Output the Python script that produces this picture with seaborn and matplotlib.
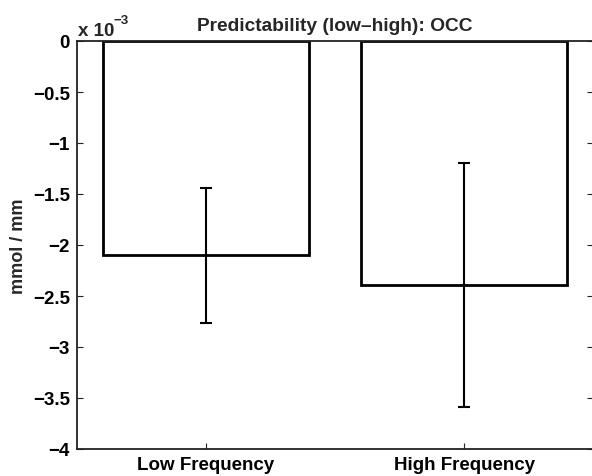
import numpy as np
import matplotlib
matplotlib.use('Agg')
import matplotlib.pyplot as plt
from matplotlib.ticker import FuncFormatter
import seaborn as sns

# dados (mmol / mm)
categorias = ['Low Frequency', 'High Frequency']
medias = [-2.10e-3, -2.39e-3]
erros = [0.66e-3, 1.195e-3]
yticks = [0, -0.5e-3, -1e-3, -1.5e-3, -2e-3, -2.5e-3, -3e-3, -3.5e-3, -4e-3]

sns.set_style('ticks')
plt.rcParams['font.family'] = ['Liberation Sans', 'DejaVu Sans']
plt.rcParams['font.weight'] = 'bold'

W, H = 592, 477
fig = plt.figure(figsize=(W / 100, H / 100), dpi=100)
# o eixo direito fica cortado na borda, como no original
ax = fig.add_axes([77 / W, 1 - 450 / H, (593 - 77) / W, (450 - 42) / H])

sns.barplot(x=categorias, y=medias, color='white', edgecolor='black',
            linewidth=2, width=0.8, saturation=1, errorbar=None, ax=ax)
ax.errorbar(x=np.arange(len(categorias)), y=medias, yerr=erros, fmt='none',
            ecolor='black', elinewidth=1.5, capsize=4, capthick=1.5)

ax.set_xlim(-0.5, 1.5)
ax.set_ylim(-4e-3, 0)
ax.set_yticks(yticks)
ax.yaxis.set_major_formatter(
    FuncFormatter(lambda v, p: f"{round(v * 1e3, 2):g}".replace('-', '\u2212')))

for s in ax.spines.values():
    s.set_visible(True)
    s.set_linewidth(1.3)
    s.set_color('#222222')

ax.tick_params(axis='both', direction='in', length=4, width=0.8,
               labelsize=13.5, pad=5, top=True, right=True, colors='#222222',
               labelcolor='black')
for lab in ax.get_xticklabels() + ax.get_yticklabels():
    lab.set_fontweight('bold')

ax.set_xlabel('')
ax.set_ylabel('mmol / mm', fontsize=13, fontweight='bold', labelpad=4)
ax.set_title('Predictability (low\u2013high): OCC', fontsize=13.8,
             fontweight='bold', pad=8)

# fator de escala estilo MATLAB
fig.text(78 / W, 1 - 36 / H, 'x 10', fontsize=13.5, fontweight='bold',
         va='baseline', ha='left')
fig.text(114 / W, 1 - 24 / H, '\u22123', fontsize=9.5, fontweight='bold',
         va='baseline', ha='left')

fig.savefig('out.png', dpi=100)
